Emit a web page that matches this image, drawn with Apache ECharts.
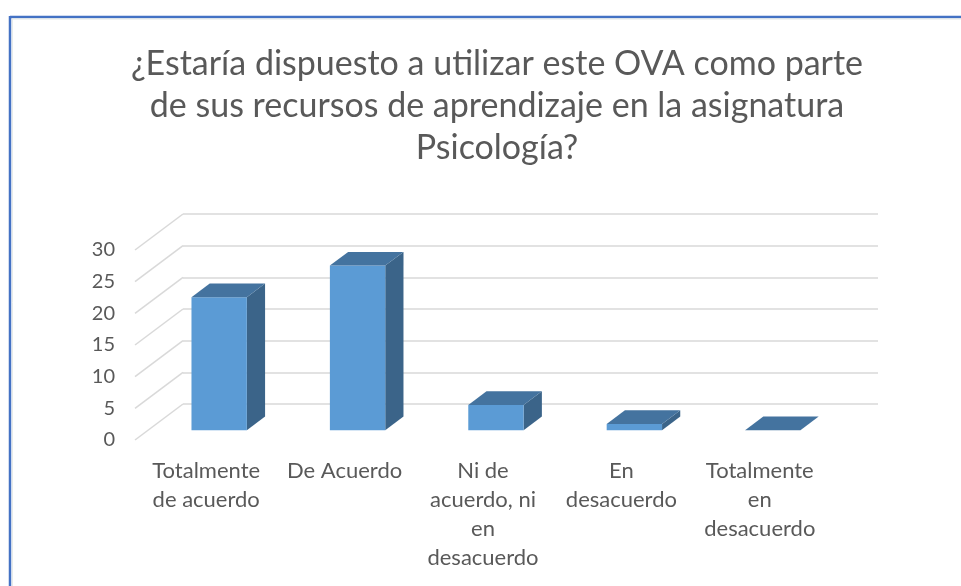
<!DOCTYPE html>
<html><head><meta charset="utf-8">
<script src="https://cdn.jsdelivr.net/npm/echarts@6/dist/echarts.min.js"></script>
<style>html,body{margin:0;padding:0;background:#fff}#c{width:961px;height:586px}</style>
</head><body><div id="c"></div>
<script>
var titleText = '¿Estaría dispuesto a utilizar este OVA como parte\nde sus recursos de aprendizaje en la asignatura\nPsicología?';
var categories = ['Totalmente\nde acuerdo', 'De Acuerdo', 'Ni de\nacuerdo, ni\nen\ndesacuerdo', 'En\ndesacuerdo', 'Totalmente\nen\ndesacuerdo'];
var values = [21, 26, 4, 1, 0];
var yTicks = [0, 5, 10, 15, 20, 25, 30];

var DX = 48, DY = -36;          // floor depth vector
var F0 = 0.27, F1 = 0.65;       // bar depth range (fraction of floor depth)
var BAR_W = 0.40;               // bar width fraction of band

var chart = echarts.init(document.getElementById('c'));
chart.setOption({
  animation: false,
  backgroundColor: '#fff',
  graphic: [
    {type: 'line', shape: {x1: 10, y1: 17, x2: 961, y2: 17}, style: {stroke: '#4472C4', lineWidth: 2.5}},
    {type: 'line', shape: {x1: 10, y1: 16, x2: 10, y2: 586}, style: {stroke: '#4472C4', lineWidth: 2.5}},
    {type: 'line', shape: {x1: 12, y1: 19, x2: 961, y2: 19}, style: {stroke: '#e4e8e4', lineWidth: 1}},
    {type: 'line', shape: {x1: 12.5, y1: 19, x2: 12.5, y2: 586}, style: {stroke: '#e8ece8', lineWidth: 1}}
  ],
  title: {
    text: titleText, left: 492, top: 38, textAlign: 'center',
    textStyle: {fontFamily: 'Lato', fontWeight: 'normal', fontSize: 34, lineHeight: 42, color: '#595959'}
  },
  grid: [
    {left: 137, top: 250, width: 692, height: 190},
    {left: 183, top: 214, width: 695, height: 190}
  ],
  xAxis: [
    {type: 'category', gridIndex: 0, data: categories,
     axisLine: {show: false}, axisTick: {show: false},
     axisLabel: {interval: 0, margin: 16, color: '#595959', fontFamily: 'Lato', fontSize: 22, lineHeight: 29}},
    {type: 'value', gridIndex: 1, show: false, min: 0, max: 1}
  ],
  yAxis: [
    {type: 'value', gridIndex: 0, min: 0, max: 30, interval: 5,
     axisLine: {show: false}, axisTick: {show: false}, splitLine: {show: false},
     axisLabel: {margin: 22, color: '#595959', fontFamily: 'Lato', fontSize: 20}},
    {type: 'value', gridIndex: 1, min: 0, max: 30, interval: 5,
     axisLine: {show: false}, axisTick: {show: false}, axisLabel: {show: false},
     splitLine: {show: true, lineStyle: {color: '#d9d9d9', width: 1.5}}}
  ],
  series: [
    {
      type: 'custom', xAxisIndex: 0, yAxisIndex: 0, silent: true, z: 1,
      data: yTicks.map(function (t) { return [0, t]; }),
      renderItem: function (params, api) {
        var cs = params.coordSys;
        var p = api.coord([0, api.value(1)]);
        var x0 = cs.x - 2, y0 = p[1];
        return {type: 'line', shape: {x1: x0, y1: y0, x2: x0 + DX, y2: y0 + DY},
          style: {stroke: '#d9d9d9', lineWidth: 1.5}};
      }
    },
    {
      type: 'custom', xAxisIndex: 0, yAxisIndex: 0, silent: true, z: 3,
      data: values.map(function (v, i) { return [i, v]; }),
      renderItem: function (params, api) {
        var i = api.value(0), v = api.value(1);
        var top = api.coord([i, v]);
        var base = api.coord([i, 0]);
        var bw = api.size([1, 0])[0] * BAR_W;
        var fx = DX * F0, fy = DY * F0;
        var bx = DX * F1, by = DY * F1;
        var xl = top[0] - bw / 2 + fx, xr = top[0] + bw / 2 + fx;
        var yt = top[1] + fy, yb = base[1] + fy;
        var ddx = bx - fx, ddy = by - fy;
        var children = [];
        children.push({type: 'polygon', shape: {points: [[xr, yt], [xr + ddx, yt + ddy], [xr + ddx, yb + ddy], [xr, yb]]},
          style: {fill: '#3B6489'}});
        if (yb - yt > 0.5) {
          children.push({type: 'rect', shape: {x: xl, y: yt, width: bw, height: yb - yt}, style: {fill: '#5B9BD5'}});
        }
        children.push({type: 'polygon', shape: {points: [[xl, yt], [xl + ddx, yt + ddy], [xr + ddx, yt + ddy], [xr, yt]]},
          style: {fill: '#44739F'}});
        return {type: 'group', children: children};
      }
    }
  ]
});
</script></body></html>
